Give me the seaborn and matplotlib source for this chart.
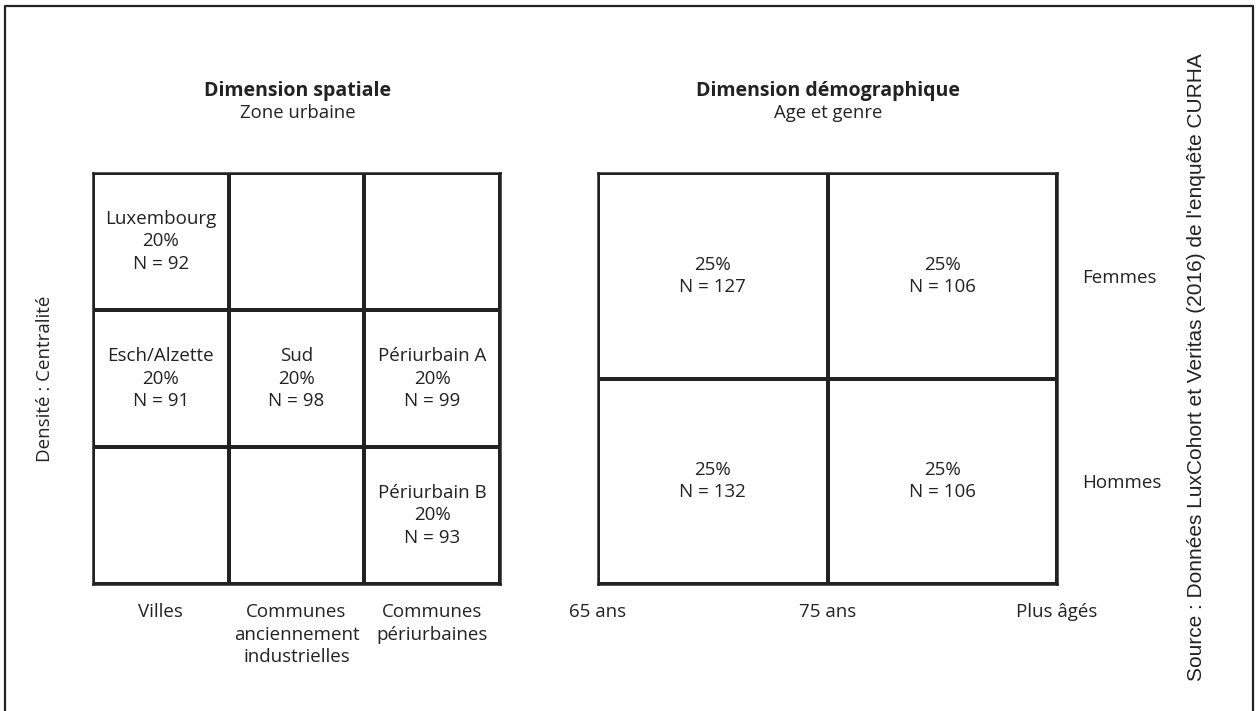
import numpy as np
import seaborn as sns
import matplotlib.pyplot as plt
from matplotlib.colors import ListedColormap
from matplotlib.lines import Line2D

# Spatial dimension (3x3 grid)
spatial_cols = ["Villes", "Communes\nanciennement\nindustrielles", "Communes\npériurbaines"]
spatial_names = [["Luxembourg", "", ""],
                 ["Esch/Alzette", "Sud", "Périurbain A"],
                 ["", "", "Périurbain B"]]
spatial_pct = [[20, 0, 0],
               [20, 20, 20],
               [0, 0, 20]]
spatial_n = [[92, 0, 0],
             [91, 98, 99],
             [0, 0, 93]]

# Demographic dimension (2x2 grid)
demo_edges = ["65 ans", "75 ans", "Plus âgés"]
demo_rows = ["Femmes", "Hommes"]
demo_pct = [[25, 25],
            [25, 25]]
demo_n = [[127, 106],
          [132, 106]]

source = "Source : Données LuxCohort et Veritas (2016) de l'enquête CURHA"

sns.set_theme(style="white")
plt.rcParams['font.family'] = ['Open Sans', 'DejaVu Sans']
ink = "#222222"
W, H = 1258, 711
fs = 13.5
lsp = 1.32
lw = 1.6

fig = plt.figure(figsize=(W / 100, H / 100), dpi=100)
fig.patch.set_facecolor("white")


def px_axes(x0, y0, x1, y1):
    return fig.add_axes([x0 / W, 1 - y1 / H, (x1 - x0) / W, (y1 - y0) / H])


def px_text(x, y, s, **kw):
    fig.text(x / W, 1 - y / H, s, ha="center", va="center", color=ink, **kw)


white = ListedColormap(["white"])

# --- spatial grid ---
labels_sp = np.empty((3, 3), dtype=object)
for i in range(3):
    for j in range(3):
        if spatial_names[i][j]:
            labels_sp[i, j] = f"{spatial_names[i][j]}\n{spatial_pct[i][j]}%\nN = {spatial_n[i][j]}"
        else:
            labels_sp[i, j] = ""

ax1 = px_axes(93, 173, 500, 584)
sns.heatmap(np.array(spatial_n, dtype=float), annot=labels_sp, fmt="", cmap=white, cbar=False,
            linewidths=lw, linecolor=ink, ax=ax1,
            annot_kws={"fontsize": fs, "color": ink, "linespacing": lsp})
ax1.set_xticks(np.arange(3) + 0.5)
ax1.set_xticklabels(spatial_cols, fontsize=fs, color=ink, va="top", linespacing=lsp)
ax1.set_yticks([])
ax1.tick_params(axis="x", length=0, pad=14)
ax1.set_ylabel("Densité : Centralité", fontsize=fs, color=ink, labelpad=28)
px_text(298, 91, "Dimension spatiale", fontsize=14, fontweight="bold")
px_text(298, 113, "Zone urbaine", fontsize=13.3)

# --- demographic grid ---
labels_dm = np.array([[f"{demo_pct[i][j]}%\nN = {demo_n[i][j]}" for j in range(2)] for i in range(2)],
                     dtype=object)
ax2 = px_axes(598, 173, 1057, 584)
sns.heatmap(np.array(demo_n, dtype=float), annot=labels_dm, fmt="", cmap=white, cbar=False,
            linewidths=lw, linecolor=ink, ax=ax2,
            annot_kws={"fontsize": fs, "color": ink, "linespacing": lsp})
ax2.set_xticks(np.arange(3))
ax2.set_xticklabels(demo_edges, fontsize=fs, color=ink, va="top")
ax2.tick_params(axis="x", length=0, pad=14)
ax2.yaxis.tick_right()
ax2.set_yticks(np.arange(2) + 0.5)
ax2.set_yticklabels(demo_rows, fontsize=fs, color=ink, rotation=0, ha="left")
ax2.tick_params(axis="y", length=0, pad=18)
px_text(828, 91, "Dimension démographique", fontsize=14, fontweight="bold")
px_text(828, 113, "Age et genre", fontsize=13.3)

for ax in (ax1, ax2):
    for sp in ax.spines.values():
        sp.set_visible(True)
        sp.set_color(ink)
        sp.set_linewidth(1.8)

# source note
px_text(1197, 367, source, rotation=90, fontsize=15, family=["Liberation Sans", "DejaVu Sans"])

# outer frame (top, left, right)
fx = [5 / W, 5 / W, 1253 / W, 1253 / W]
fy = [0, 1 - 6 / H, 1 - 6 / H, 0]
fig.add_artist(Line2D(fx, fy, color=ink, linewidth=1.6, transform=fig.transFigure))

fig.savefig("out.png", dpi=100, facecolor="white")
